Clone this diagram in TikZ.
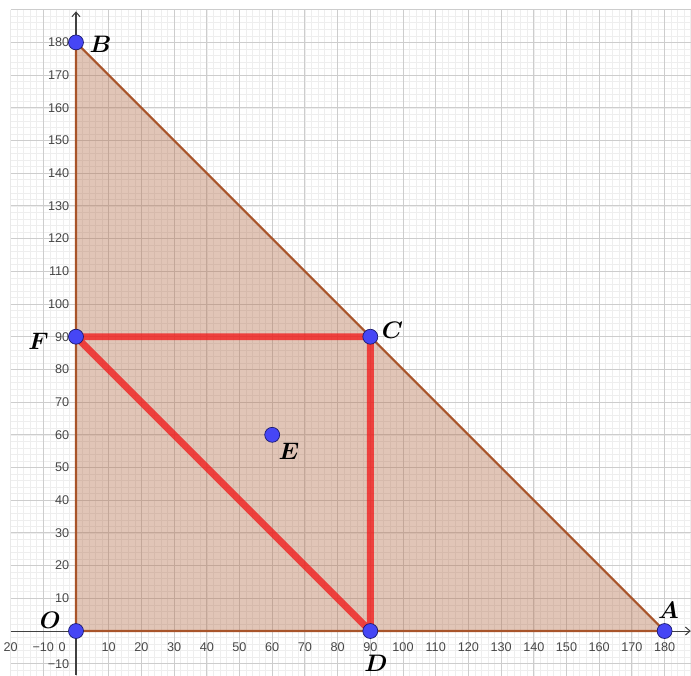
\documentclass[tikz,border=0pt]{standalone}
\usepackage{fontspec}
\newfontfamily\tickfont{Liberation Sans}
\usepackage{amsmath}
\usetikzlibrary{arrows.meta}

\definecolor{gridmajor}{RGB}{205,205,205}
\definecolor{gridminor}{RGB}{238,238,238}
\definecolor{regionedge}{RGB}{168,84,42}
\definecolor{regionfill}{RGB}{180,110,75}
\definecolor{segred}{RGB}{240,30,30}
\definecolor{ptblue}{RGB}{70,70,245}
\definecolor{ptrim}{RGB}{25,25,110}

\begin{document}
\begin{tikzpicture}[x=1mm, y=1mm,
        axisline/.style={line width=0.9pt, black!75, -{Straight Barb[length=4pt, width=7pt]}},
        ticklabel/.style={font=\tickfont\fontsize{11}{11}\selectfont, text=black!72, inner sep=0pt},
        ptlabel/.style={font=\boldmath\fontsize{20}{20}\selectfont, inner sep=0pt},
        pt/.style={circle, draw=ptrim, fill=ptblue, line width=0.6pt, minimum size=13pt, inner sep=0pt},
        redseg/.style={draw=segred, draw opacity=0.8, line width=6pt, line join=round}]

        \useasboundingbox (-23.24,-13.46) rectangle (188.07,192.97);

        % 1. 方眼（細かい線と太い線）
        \begin{scope}
            \clip (-20,-13.46) rectangle (188.07,190);
            \draw[step=2, gridminor, line width=0.5pt] (-20,-14) grid (190,190);
            \draw[step=10, gridmajor, line width=0.8pt] (-20,-14) grid (190,190);
        \end{scope}

        % 2. 軸と目盛り数値
        \coordinate (xleft) at (-20,0);
        \coordinate (xright) at (188,0);
        \coordinate (ybottom) at (0,-13.46);
        \coordinate (ytop) at (0,189.5);
        \draw[axisline] (xleft) -- (xright);
        \draw[axisline] (ybottom) -- (ytop);

        % x軸目盛り
        \foreach \x in {10,20,...,180}
            \node[ticklabel] (tx\x) at (\x,-4.9) {\x};
        \node[ticklabel] (tx0) at (-4.2,-4.9) {0};
        \node[ticklabel] (txm10) at (-10,-4.9) {−10};
        \node[ticklabel] (txm20) at (-20,-4.9) {20};

        % y軸目盛り
        \foreach \y in {10,20,...,180}
            \node[ticklabel, anchor=east] (ty\y) at (-2,\y) {\y};
        \node[ticklabel, anchor=east] (tym10) at (-2,-10) {−10};

        % 3. 領域（三角形 OAB）
        \coordinate (O) at (0,0);
        \coordinate (A) at (180,0);
        \coordinate (B) at (0,180);
        \coordinate (C) at (90,90);
        \coordinate (D) at (90,0);
        \coordinate (E) at (60,60);
        \coordinate (F) at (0,90);
        \fill[regionfill, fill opacity=0.4] (O) -- (A) -- (B) -- cycle;
        \draw[regionedge, line width=1.8pt, line join=round] (O) -- (A) -- (B) -- cycle;

        % 4. 赤い線分 FC, CD, DF
        \draw[redseg] (F) -- (C) -- (D) -- cycle;

        % 5. 点と名前
        \foreach \p in {O,A,B,C,D,E,F}
            \node[pt] (dot\p) at (\p) {};
        \node[ptlabel] (labO) at (-7.9,3.4) {$O$};
        \node[ptlabel] (labA) at (181.2,6.3) {$A$};
        \node[ptlabel] (labB) at (7.5,179.4) {$B$};
        \node[ptlabel] (labC) at (96.8,92) {$C$};
        \node[ptlabel] (labD) at (91.7,-9.8) {$D$};
        \node[ptlabel] (labE) at (65.1,55) {$E$};
        \node[ptlabel] (labF) at (-11.5,88.7) {$F$};
\end{tikzpicture}
\end{document}
